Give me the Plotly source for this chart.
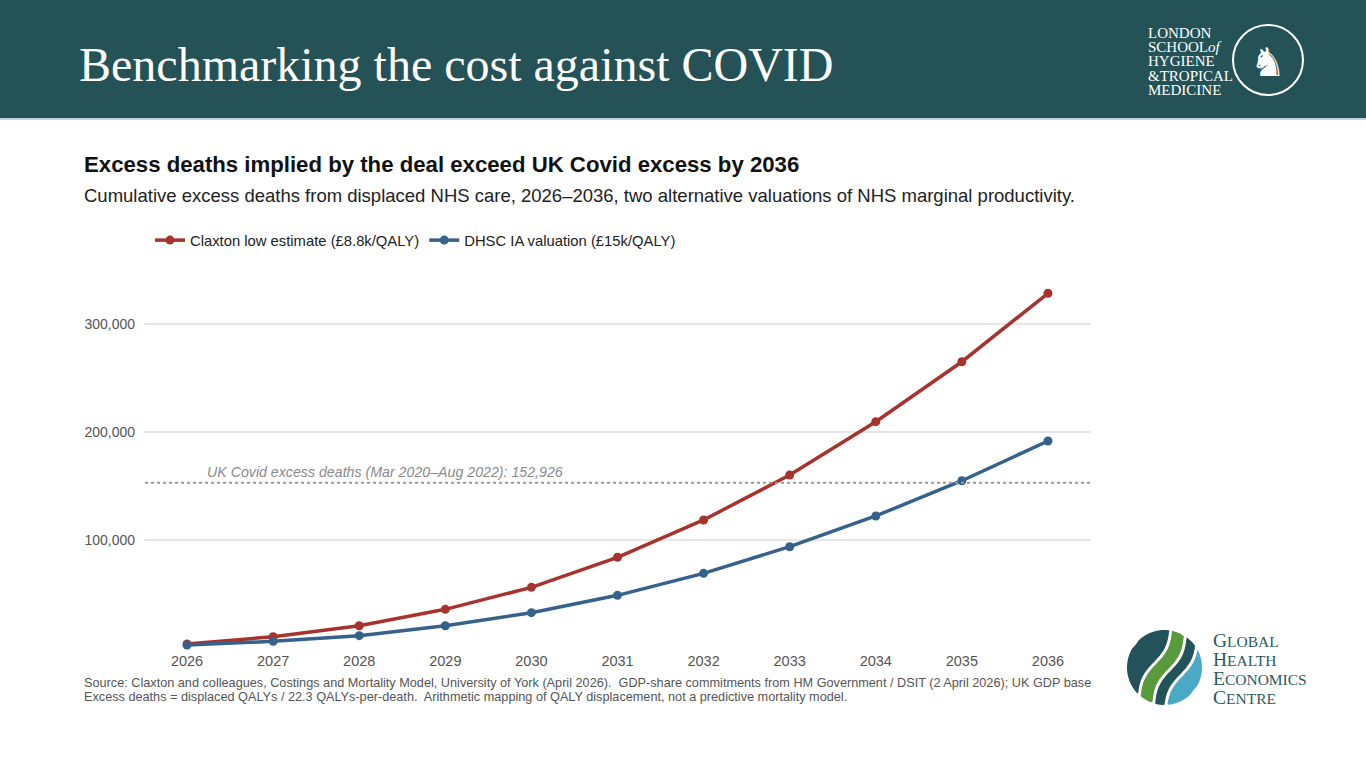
import math
import plotly.graph_objects as go

# ---------------- data ----------------
years = [2026, 2027, 2028, 2029, 2030, 2031, 2032, 2033, 2034, 2035, 2036]
claxton_low = [3200, 10000, 20200, 35400, 55800, 83700, 118300, 160000, 209500, 265100, 328600]
dhsc_ia = [2300, 5700, 11000, 20200, 32300, 48400, 68800, 93500, 122000, 154700, 191600]
y_ticks = [100000, 200000, 300000]
y_tick_labels = ["100,000", "200,000", "300,000"]
covid_excess = 152926

series_names = ["Claxton low estimate (£8.8k/QALY)", "DHSC IA valuation (£15k/QALY)"]
series_colors = ["#a8322d", "#35618a"]

W, H = 1366, 769


def px(x):
    return x / W


def py(y):
    return 1 - y / H


fig = go.Figure()
for name, vals, col in zip(series_names, [claxton_low, dhsc_ia], series_colors):
    fig.add_trace(go.Scatter(
        x=years, y=vals, name=name, mode="lines+markers",
        line=dict(color=col, width=3.5),
        marker=dict(color=col, size=9),
        cliponaxis=False,
    ))

shapes = []
# header band
shapes.append(dict(type="rect", xref="paper", yref="paper", x0=0, x1=1, y0=py(118), y1=1,
                   fillcolor="#245257", line=dict(width=0), layer="below"))
shapes.append(dict(type="line", xref="paper", yref="paper", x0=0, x1=1, y0=py(119), y1=py(119),
                   line=dict(color="#b6d7dc", width=2)))
# LSHTM emblem circle
cx, cy, r = 1268, 60, 35
shapes.append(dict(type="circle", xref="paper", yref="paper",
                   x0=px(cx - r), x1=px(cx + r), y0=py(cy + r), y1=py(cy - r),
                   line=dict(color="white", width=2)))
# covid reference line
shapes.append(dict(type="line", xref="paper", yref="y", x0=px(145), x1=px(1092),
                   y0=covid_excess, y1=covid_excess,
                   line=dict(color="#999999", width=2, dash="dot")))

# GHEC logo: banded circle
gx, gy, gr = 1164.5, 667.5, 37.5
ang = math.radians(65)
ev = (math.cos(ang), -math.sin(ang))   # along band (up-right)
eu = (math.sin(ang), math.cos(ang))    # across band (right-down)


def S(v):
    return 4.0 * math.sin(math.pi * v / gr)


bands = [(-gr - 1, -12, "#23525a"), (-9, 4, "#5b9a3c"), (7, 17, "#23525a"), (20, gr + 1, "#4aaac6")]
for u1, u2, col in bands:
    left, right = [], []
    n = 80
    for k in range(n + 1):
        v = -gr + 2 * gr * k / n
        half = math.sqrt(max(gr * gr - v * v, 0))
        lo = max(-half, u1 + S(v))
        hi = min(half, u2 + S(v))
        if lo <= hi:
            left.append((lo, v))
            right.append((hi, v))
    pts = left + right[::-1]
    coords = []
    for u, v in pts:
        X = gx + u * eu[0] + v * ev[0]
        Y = gy + u * eu[1] + v * ev[1]
        coords.append(f"{px(X):.5f},{py(Y):.5f}")
    path = "M " + " L ".join(coords) + " Z"
    shapes.append(dict(type="path", xref="paper", yref="paper", path=path,
                       fillcolor=col, line=dict(width=0)))

annotations = []
annotations.append(dict(xref="paper", yref="paper", x=px(77), y=py(64), xanchor="left", yanchor="middle",
                        text="Benchmarking the cost against COVID", showarrow=False,
                        font=dict(family="Liberation Serif", size=48, color="white")))
lshtm = ["LONDON", "SCHOOL<i>of</i>", "HYGIENE", "&amp;TROPICAL", "MEDICINE"]
for i, t in enumerate(lshtm):
    annotations.append(dict(xref="paper", yref="paper", x=px(1146), y=py(33 + i * 14.2),
                            xanchor="left", yanchor="middle", text=t, showarrow=False,
                            font=dict(family="Liberation Serif", size=15, color="white")))
annotations.append(dict(xref="paper", yref="paper", x=px(cx), y=py(cy + 2), xanchor="center", yanchor="middle",
                        text="♞", showarrow=False,
                        font=dict(family="DejaVu Sans", size=40, color="white")))

annotations.append(dict(xref="paper", yref="paper", x=px(82), y=py(164), xanchor="left", yanchor="middle",
                        text="<b>Excess deaths implied by the deal exceed UK Covid excess by 2036</b>",
                        showarrow=False,
                        font=dict(family="Liberation Sans", size=22.2, color="#111111")))
annotations.append(dict(xref="paper", yref="paper", x=px(82), y=py(195), xanchor="left", yanchor="middle",
                        text="Cumulative excess deaths from displaced NHS care, 2026–2036, two alternative valuations of NHS marginal productivity.",
                        showarrow=False,
                        font=dict(family="Liberation Sans", size=18.5, color="#222222")))
annotations.append(dict(xref="x", yref="y", x=2026.21, y=covid_excess, xanchor="left", yanchor="bottom",
                        yshift=1, text="<i>UK Covid excess deaths (Mar 2020–Aug 2022): 152,926</i>",
                        showarrow=False,
                        font=dict(family="Liberation Sans", size=14.2, color="#8a8a8a")))
source_lines = [
    "Source: Claxton and colleagues, Costings and Mortality Model, University of York (April 2026).  GDP-share commitments from HM Government / DSIT (2 April 2026); UK GDP base",
    "Excess deaths = displaced QALYs / 22.3 QALYs-per-death.  Arithmetic mapping of QALY displacement, not a predictive mortality model.",
]
for i, t in enumerate(source_lines):
    annotations.append(dict(xref="paper", yref="paper", x=px(82), y=py(683 + i * 13.5), xanchor="left",
                            yanchor="middle", text=t, showarrow=False,
                            font=dict(family="Liberation Sans", size=12.7, color="#555555")))
ghec = [("G", "LOBAL"), ("H", "EALTH"), ("E", "CONOMICS"), ("C", "ENTRE")]
for i, (a, b) in enumerate(ghec):
    annotations.append(dict(xref="paper", yref="paper", x=px(1211), y=py(640 + i * 19),
                            xanchor="left", yanchor="middle",
                            text=f"{a}<span style='font-size:15.5px'>{b}</span>", showarrow=False,
                            font=dict(family="Liberation Serif", size=19.5, color="#2a5a60")))

fig.update_layout(
    width=W, height=H,
    margin=dict(l=0, r=0, t=0, b=0),
    paper_bgcolor="white", plot_bgcolor="white",
    font=dict(family="Liberation Sans", color="#555555"),
    shapes=shapes, annotations=annotations,
    showlegend=True,
    legend=dict(orientation="h", x=px(150), y=py(224), xanchor="left", yanchor="top",
                font=dict(family="Liberation Sans", size=14.8, color="#222222"),
                bgcolor="rgba(0,0,0,0)", itemwidth=30),
    xaxis=dict(domain=[px(144), px(1091)], range=[2025.5, 2036.5], tickmode="array", tickvals=years,
               showgrid=False, zeroline=False, showline=False, ticks="",
               tickfont=dict(size=14.5, color="#555555"), ticklabelstandoff=3, fixedrange=True),
    yaxis=dict(domain=[py(647.5), py(281)], range=[0, 340000], tickmode="array", tickvals=y_ticks,
               ticktext=y_tick_labels, showgrid=True, gridcolor="#e6e6e6", gridwidth=1.5,
               zeroline=False, showline=False, ticks="",
               tickfont=dict(size=14, color="#555555"), ticklabelstandoff=8, fixedrange=True),
)

fig.write_html("out.html", config={"displayModeBar": False},
               post_script="document.body.style.margin='0';document.body.style.overflow='hidden';")
